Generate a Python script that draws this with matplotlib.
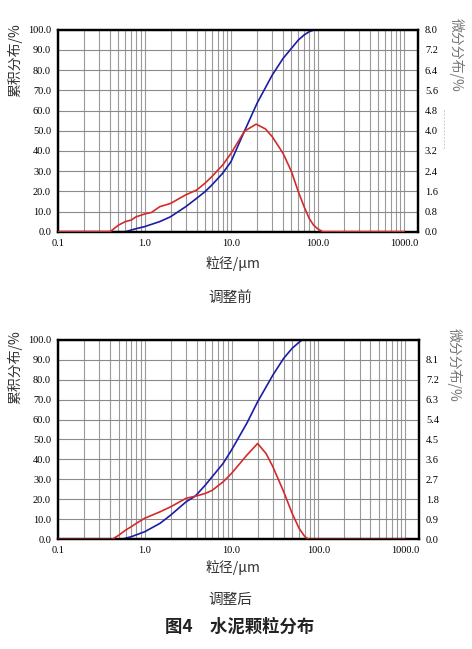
import matplotlib
matplotlib.use("Agg")
import matplotlib.pyplot as plt
from matplotlib.ticker import FixedLocator, NullFormatter

plt.rcParams['font.family'] = ['Noto Sans CJK SC', 'DejaVu Sans']

# particle size (um) and curves
# before adjustment: cumulative (%) and differential (%)
size_cum_before = [0.1, 0.6, 0.7, 0.8, 1.0, 1.5, 2, 3, 4, 5, 6, 8, 10, 14.3, 20, 30, 40, 50, 60, 70, 80, 90, 100, 1000]
cum_before = [0, 0, 0.8, 1.5, 2.5, 5.0, 7.4, 12.4, 16.5, 19.8, 23.1, 28.9, 34.7, 49.8, 63.6, 77.6, 85.8, 90.8, 94.9, 97.4, 99.0, 99.8, 100, 100]

size_diff_before = [0.1, 0.4, 0.5, 0.6, 0.7, 0.8, 1.0, 1.2, 1.5, 2, 3, 4, 5, 6, 8, 10, 14.3, 19.5, 25, 30, 40, 50, 60, 70, 80, 90, 100, 115, 1000]
diff_before = [0, 0, 0.26, 0.40, 0.46, 0.59, 0.70, 0.76, 0.99, 1.12, 1.46, 1.65, 1.92, 2.18, 2.64, 3.10, 3.98, 4.26, 4.07, 3.76, 3.10, 2.38, 1.58, 0.99, 0.53, 0.26, 0.12, 0, 0]

# after adjustment
size_cum_after = [0.1, 0.54, 0.7, 1.0, 1.5, 2, 3, 3.84, 5, 6, 8, 10, 15, 20, 30, 40, 50, 60, 66, 1000]
cum_after = [0, 0, 1.3, 3.8, 8.0, 12.2, 18.8, 21.7, 27.2, 31.4, 38.0, 44.7, 58.1, 68.9, 82.3, 90.7, 95.7, 98.7, 100, 100]

size_diff_after = [0.1, 0.42, 0.5, 0.6, 0.7, 0.8, 1.0, 1.5, 2, 3, 4, 5, 6, 8, 10, 15, 20, 25, 30, 40, 50, 60, 70, 78, 1000]
diff_after = [0, 0, 0.18, 0.41, 0.57, 0.72, 0.95, 1.24, 1.47, 1.85, 1.96, 2.07, 2.21, 2.59, 2.97, 3.79, 4.32, 3.87, 3.27, 2.14, 1.17, 0.50, 0.12, 0, 0]

x_ticks = [0.1, 1, 10, 100, 1000]
x_labels = ["0.1", "1.0", "10.0", "100.0", "1000.0"]
left_ticks = list(range(0, 101, 10))
right_top_max = 8.0
right_bot_max = 9.0

blue = "#1c1ca6"
red = "#d42a2a"
num_font = dict(family="Liberation Serif", size=7.5)


def draw_panel(ax, xc, yc, xd, yd, rmax, rticks):
    ax.set_xscale("log")
    ax.set_xlim(0.1, 1450)
    ax.set_ylim(0, 100)
    ax.xaxis.set_major_locator(FixedLocator(x_ticks))
    ax.set_xticklabels(x_labels, **num_font)
    ax.xaxis.set_minor_formatter(NullFormatter())
    ax.set_yticks(left_ticks)
    ax.set_yticklabels([f"{v:.1f}" for v in left_ticks], **num_font)
    ax.grid(True, which="both", axis="x", color="#9a9a9a", lw=0.8)
    ax.grid(True, which="major", axis="y", color="#8a8a8a", lw=0.8)
    ax.tick_params(which="both", length=0, pad=5)
    ax.plot(xc, yc, color=blue, lw=1.2, zorder=4)

    ax2 = ax.twinx()
    ax2.set_ylim(0, rmax)
    ax2.set_yticks(rticks)
    ax2.set_yticklabels([f"{v:.1f}" for v in rticks], **num_font)
    ax2.tick_params(length=0, pad=5)
    ax2.plot(xd, yd, color=red, lw=1.2, zorder=4)
    for a in (ax, ax2):
        for s in a.spines.values():
            s.set_color("black")
            s.set_linewidth(1.6)
    return ax2


fig = plt.figure(figsize=(4.72, 6.49), dpi=100)

ax_top = fig.add_axes([58 / 472, 1 - 231.7 / 649, 360 / 472, 202 / 649])
draw_panel(ax_top, size_cum_before, cum_before, size_diff_before, diff_before,
           right_top_max, [round(0.8 * i, 1) for i in range(11)])

ax_bot = fig.add_axes([58 / 472, 1 - 539.3 / 649, 361 / 472, 199.6 / 649])
draw_panel(ax_bot, size_cum_after, cum_after, size_diff_after, diff_after,
           right_bot_max, [round(0.9 * i, 1) for i in range(10)])

# axis titles and captions
lab = dict(fontsize=10, color="#333333", ha="center", va="center")
fig.text(233 / 472, 1 - 263 / 649, "粒径/μm", **lab)
fig.text(233 / 472, 1 - 567 / 649, "粒径/μm", **lab)
fig.text(15 / 472, 1 - 60 / 649, "累积分布/%", rotation=90, **lab)
fig.text(15 / 472, 1 - 367 / 649, "累积分布/%", rotation=90, **lab)
fig.text(456 / 472, 1 - 55 / 649, "微分分布/%", rotation=270,
         fontsize=10, color="#777777", ha="center", va="center")
fig.text(454 / 472, 1 - 365 / 649, "微分分布/%", rotation=270,
         fontsize=10, color="#777777", ha="center", va="center")
fig.add_artist(plt.Line2D([444 / 472, 444 / 472], [1 - 110 / 649, 1 - 150 / 649],
                          color="#bbbbbb", lw=0.6, ls=(0, (2, 2))))

fig.text(230 / 472, 1 - 298 / 649, "调整前", fontsize=10.5, color="#333333", ha="center", va="center")
fig.text(230 / 472, 1 - 600 / 649, "调整后", fontsize=10.5, color="#333333", ha="center", va="center")
fig.text(240 / 472, 1 - 627 / 649, "图4　水泥颗粒分布", fontsize=12.5, fontweight="bold",
         color="#222222", ha="center", va="center")

fig.savefig("out.png", dpi=100)
